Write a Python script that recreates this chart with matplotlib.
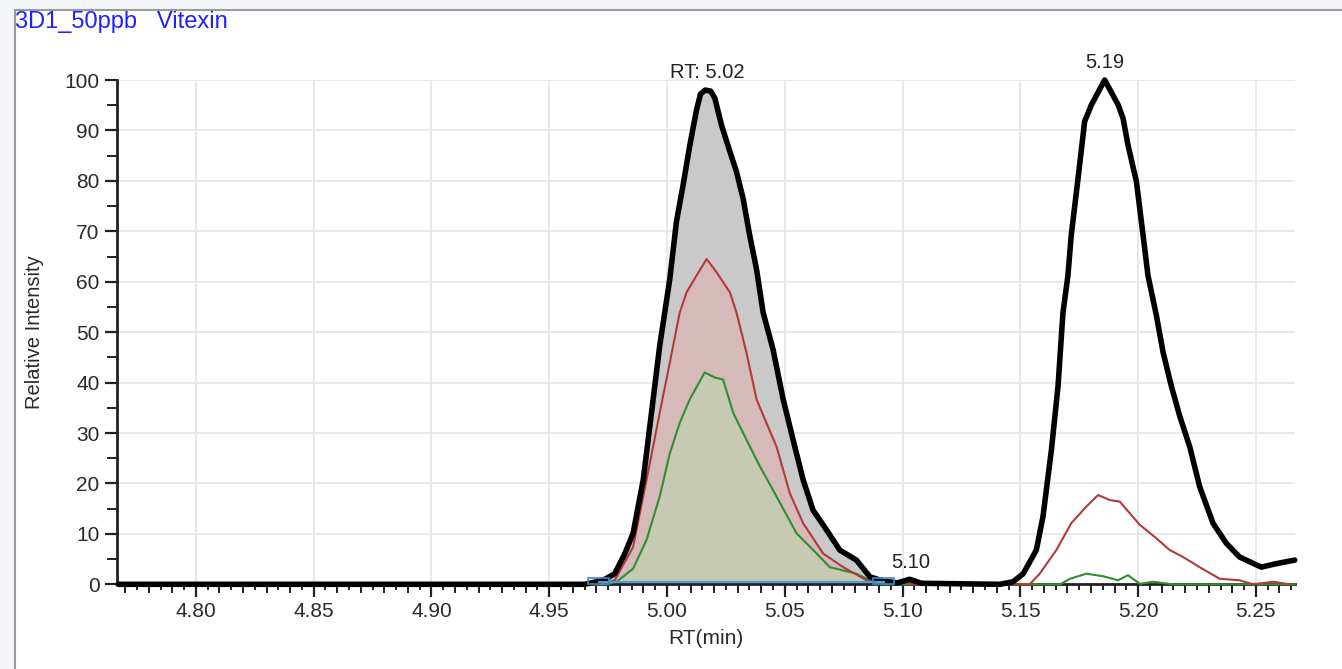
import numpy as np
import matplotlib
matplotlib.use("Agg")
import matplotlib.pyplot as plt
from matplotlib.patches import Rectangle
from matplotlib.ticker import MultipleLocator, FixedLocator

plt.rcParams['font.family'] = ['Liberation Sans', 'DejaVu Sans']

# chromatogram traces (RT in min, relative intensity in %)
black_rt = [4.767, 4.965, 4.9729, 4.9778, 4.9821, 4.9856, 4.9899, 4.9934, 4.9969, 5.0012,
            5.0040, 5.0068, 5.0097, 5.0125, 5.0142, 5.0162, 5.0185, 5.0203, 5.0231, 5.0267,
            5.0295, 5.0323, 5.0351, 5.0380, 5.0408, 5.0450, 5.0493, 5.0535, 5.0578, 5.0620,
            5.0677, 5.0733, 5.0804, 5.0861, 5.0920, 5.0980, 5.1030, 5.1080, 5.1413, 5.1469,
            5.1512, 5.1568, 5.1596, 5.1632, 5.1660, 5.1681, 5.1702, 5.1716, 5.1745, 5.1773,
            5.1802, 5.1858, 5.1915, 5.1936, 5.1957, 5.1993, 5.2021, 5.2042, 5.2078, 5.2106,
            5.2141, 5.2177, 5.2219, 5.2261, 5.2318, 5.2375, 5.2431, 5.2523, 5.2587, 5.2665]
black_int = [0, 0, 0.8, 2.1, 6.1, 10.1, 20.7, 34.0, 47.3, 60.6,
             71.9, 79.1, 87.1, 94.0, 97.2, 98.0, 97.8, 96.4, 91.1, 85.8,
             81.8, 76.5, 69.2, 62.5, 53.9, 46.6, 36.7, 28.7, 20.7, 14.7,
             10.8, 6.8, 4.8, 1.5, 0.6, 0.3, 1.0, 0.2, 0, 0.5,
             2.1, 6.8, 13.4, 26.7, 39.3, 53.9, 61.2, 69.2, 80.5, 91.8,
             95.1, 100.0, 95.1, 92.4, 87.1, 79.8, 69.2, 61.2, 53.2, 46.0,
             39.3, 33.3, 27.3, 19.4, 12.1, 8.1, 5.4, 3.4, 4.1, 4.8]

red_rt = [4.767, 4.972, 4.9778, 4.9856, 4.9913, 4.9969, 5.0012, 5.0054, 5.0083, 5.0125,
          5.0168, 5.0210, 5.0267, 5.0295, 5.0337, 5.0380, 5.0422, 5.0465, 5.0521, 5.0578,
          5.0663, 5.0748, 5.0847, 5.0930, 5.1000, 5.1060, 5.1540, 5.1582, 5.1653, 5.1716,
          5.1780, 5.1830, 5.1880, 5.1922, 5.2007, 5.2078, 5.2134, 5.2191, 5.2261, 5.2346,
          5.2431, 5.2488, 5.2573, 5.2644]
red_int = [0, 0, 0.8, 7.4, 20.7, 34.0, 44.0, 53.9, 57.9, 61.2,
           64.5, 61.9, 57.9, 53.9, 46.0, 36.7, 32.0, 27.3, 18.1, 12.1,
           6.1, 3.4, 0.8, 0, 0.5, 0, 0, 2.1, 6.8, 12.1,
           15.4, 17.7, 16.7, 16.4, 11.8, 9.1, 6.8, 5.4, 3.4, 1.1,
           0.8, 0, 0.5, 0]

green_rt = [4.767, 4.974, 4.9786, 4.9856, 4.9913, 4.9969, 5.0012, 5.0054, 5.0097, 5.0160,
            5.0203, 5.0238, 5.0281, 5.0337, 5.0394, 5.0465, 5.0550, 5.0635, 5.0691, 5.0804,
            5.0861, 5.0920, 5.1669, 5.1711, 5.1780, 5.1851, 5.1915, 5.1957, 5.2007, 5.2063,
            5.2148, 5.2665]
green_int = [0, 0, 0.5, 3.1, 8.8, 17.4, 26.0, 32.0, 36.7, 42.0,
             41.0, 40.6, 34.0, 28.7, 23.4, 17.4, 10.1, 6.1, 3.4, 2.1,
             0.8, 0, 0, 1.1, 2.1, 1.6, 0.8, 1.8, 0.1, 0.5,
             0, 0]

peak_bounds = [4.971, 5.092]          # integration start / end
peak_labels = [(5.017, 98.0, "RT: 5.02"), (5.1858, 100.0, "5.19"), (5.1035, 1.0, "5.10")]

x_min, x_max = 4.7665, 5.2666
x_ticks = [4.80, 4.85, 4.90, 4.95, 5.00, 5.05, 5.10, 5.15, 5.20, 5.25]

fig = plt.figure(figsize=(13.42, 6.69), dpi=100)
fig.patch.set_facecolor('#f4f5f8')
# white panel with grey frame like the viewer window
fig.patches.append(Rectangle((15 / 1342, -0.05), 1.1, 1 - 10 / 669 + 0.05, transform=fig.transFigure,
                             facecolor='white', edgecolor='#9a9a9a', linewidth=1.5, zorder=-5))
fig.text(15 / 1342, 1 - 22 / 669, "3D1_50ppb   Vitexin", color='#1f1fff', fontsize=17,
         va='center', ha='left')

ax = fig.add_axes([117 / 1342, 1 - 584.3 / 669, (1295 - 117) / 1342, (584.3 - 80) / 669])
ax.set_facecolor('none')

bx, by = np.array(black_rt), np.array(black_int)
rx, ry = np.array(red_rt), np.array(red_int)
gx, gy = np.array(green_rt), np.array(green_int)

# filled area of the integrated peak
for xs, ys, col in [(bx, by, '#c9c9c9'), (rx, ry, '#d6b9b9'), (gx, gy, '#c6cab2')]:
    m = (xs >= peak_bounds[0] - 0.003) & (xs <= peak_bounds[1] + 0.001)
    ax.fill_between(xs[m], ys[m], 0, color=col, linewidth=0, zorder=2)

ax.plot(gx, gy, color='#2f8f2f', linewidth=1.5, zorder=3, clip_on=False)
ax.plot(rx, ry, color='#b23a3a', linewidth=1.5, zorder=4, clip_on=False)
ax.plot(bx, by, color='black', linewidth=4, zorder=5, clip_on=False,
        solid_joinstyle='round', solid_capstyle='round')

# baseline and integration markers
ax.plot(peak_bounds, [0.4, 0.4], color='#4a9fd8', linewidth=1.5, zorder=6)
for b in peak_bounds:
    ax.add_patch(Rectangle((b - 0.0045, 0), 0.009, 1.2, facecolor='none', edgecolor='#3a8ad0',
                           linewidth=1.2, zorder=6, clip_on=False))

for px, py, txt in peak_labels:
    ax.annotate(txt, (px, py), xytext=(0, 6 if py > 50 else 5), textcoords='offset points',
                ha='center', va='bottom', fontsize=14.5, color='#222222')

ax.set_xlim(x_min, x_max)
ax.set_ylim(0, 100)
ax.xaxis.set_major_locator(FixedLocator(x_ticks))
ax.xaxis.set_minor_locator(MultipleLocator(0.005))
ax.xaxis.set_major_formatter(matplotlib.ticker.FormatStrFormatter('%.2f'))
ax.yaxis.set_major_locator(MultipleLocator(10))
ax.yaxis.set_minor_locator(MultipleLocator(5))

ax.tick_params(axis='both', which='major', length=9, width=1.6, labelsize=15,
               labelcolor='#2a2a2a', color='#222222')
ax.tick_params(axis='x', which='minor', length=4, width=1.4, color='#222222')
ax.tick_params(axis='y', which='minor', length=7, width=1.4, color='#222222')

# medium ticks every 0.01 min
sec = ax.secondary_xaxis('bottom')
sec.xaxis.set_major_locator(FixedLocator(np.round(np.arange(4.77, 5.27, 0.01), 3)))
sec.tick_params(length=6.5, width=1.4, labelbottom=False, color='#222222')
sec.spines['bottom'].set_visible(False)

for s in ['top', 'right']:
    ax.spines[s].set_visible(False)
for s in ['left', 'bottom']:
    ax.spines[s].set_linewidth(2)
    ax.spines[s].set_color('#222222')

ax.grid(True, which='major', color='#e6e6e6', linewidth=1.3, zorder=0)
ax.set_axisbelow(True)
ax.set_xlabel("RT(min)", fontsize=15, color='#2a2a2a', labelpad=6)
ax.set_ylabel("Relative Intensity", fontsize=14.5, color='#2a2a2a', labelpad=15)

fig.savefig("out.png", dpi=100, facecolor=fig.get_facecolor())
